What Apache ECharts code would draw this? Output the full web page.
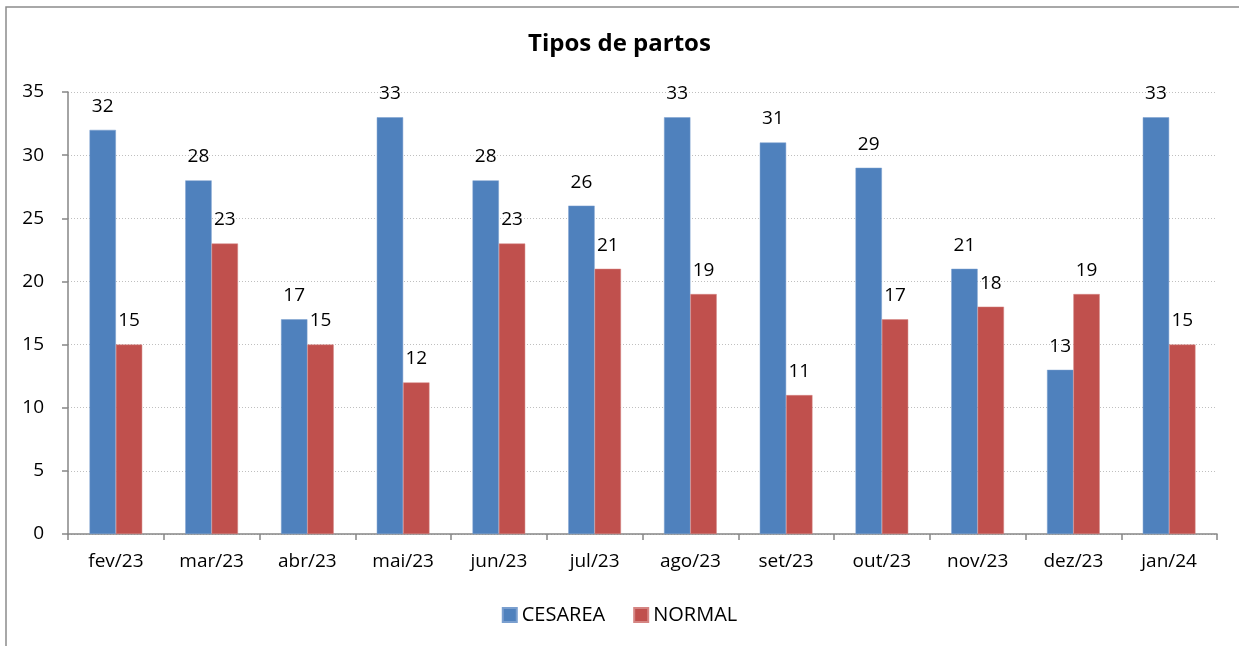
<!DOCTYPE html>
<html><head><meta charset="utf-8">
<script src="https://cdn.jsdelivr.net/npm/echarts@6/dist/echarts.min.js"></script>
<style>html,body{margin:0;padding:0;background:#fff}#c{width:1239px;height:646px}</style>
</head><body><div id="c"></div>
<script>
var categories = ['fev/23','mar/23','abr/23','mai/23','jun/23','jul/23','ago/23','set/23','out/23','nov/23','dez/23','jan/24'];
var cesarea = [32,28,17,33,28,26,33,31,29,21,13,33];
var normal = [15,23,15,12,23,21,19,11,17,18,19,15];
var seriesNames = ['CESAREA','NORMAL'];
var F = 'Open Sans';
var chart = echarts.init(document.getElementById('c'));
chart.setOption({
  animation:false,
  textStyle:{fontFamily:F},
  title:{text:'Tipos de partos',left:'center',top:27,textStyle:{fontFamily:F,fontSize:24,fontWeight:'bold',color:'#000'}},
  graphic:[{type:'rect',shape:{x:6,y:7,width:1260,height:680},style:{fill:'none',stroke:'#8c8c8c',lineWidth:1.5},silent:true}],
  legend:{data:seriesNames,bottom:16,left:'center',itemWidth:14,itemHeight:14,itemGap:28,icon:'rect',textStyle:{fontFamily:F,fontSize:20,color:'#000'}},
  grid:{left:68,right:22,top:92,bottom:112,containLabel:false},
  xAxis:{type:'category',data:categories,
    axisLine:{lineStyle:{color:'#868686',width:1.5}},
    axisTick:{show:true,alignWithLabel:false,length:6,lineStyle:{color:'#868686',width:1.5}},
    axisLabel:{fontFamily:F,fontSize:19,color:'#000',margin:18}},
  yAxis:{type:'value',min:0,max:35,interval:5,
    axisLine:{show:true,lineStyle:{color:'#868686',width:1.5}},
    axisTick:{show:true,length:6,lineStyle:{color:'#868686',width:1.5}},
    axisLabel:{fontFamily:F,fontSize:19,color:'#000',margin:24},
    splitLine:{lineStyle:{color:'#bfbfbf',type:[1,2],width:1}}},
  series:[
    {name:seriesNames[0],type:'bar',data:cesarea,barGap:'0%',barCategoryGap:'45%',
     itemStyle:{color:'#4f81bd',borderColor:'#7a9fcf',borderWidth:0.5},
     label:{show:true,position:'top',distance:14,fontFamily:F,fontSize:19,color:'#000'}},
    {name:seriesNames[1],type:'bar',data:normal,
     itemStyle:{color:'#c0504d',borderColor:'#d58583',borderWidth:0.5},
     label:{show:true,position:'top',distance:14,fontFamily:F,fontSize:19,color:'#000'}}
  ]
});
</script></body></html>
